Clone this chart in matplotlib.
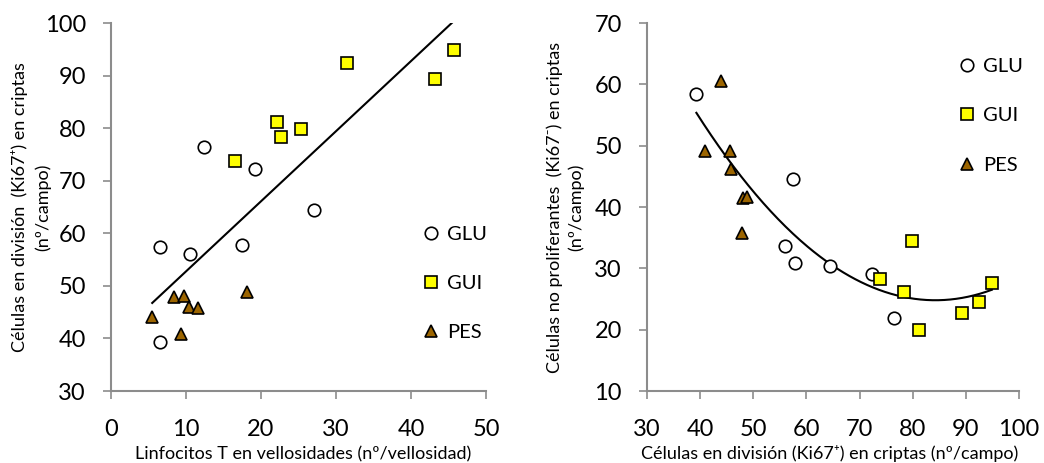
import matplotlib
matplotlib.use('Agg')
import matplotlib.pyplot as plt
import numpy as np

plt.rcParams['font.family'] = ['Lato', 'DejaVu Sans']

# Ki67+ cells in crypts (shared between both panels)
glu_ki67p = [57.4, 39.3, 56.0, 76.4, 72.3, 57.8, 64.5]
gui_ki67p = [73.8, 81.2, 78.4, 79.8, 92.4, 89.3, 94.9]
pes_ki67p = [44.0, 47.8, 48.0, 40.9, 45.9, 45.7, 48.8]

# T lymphocytes in villi
glu_linf = [6.5, 6.5, 10.6, 12.4, 19.2, 17.45, 27.1]
gui_linf = [16.6, 22.1, 22.65, 25.4, 31.5, 43.2, 45.8]
pes_linf = [5.5, 8.45, 9.8, 9.3, 10.45, 11.55, 18.1]

# Ki67- cells in crypts
glu_ki67n = [44.6, 58.5, 33.6, 21.9, 29.0, 30.8, 30.4]
gui_ki67n = [28.3, 20.0, 26.1, 34.5, 24.5, 22.7, 27.6]
pes_ki67n = [60.5, 35.8, 41.4, 49.1, 46.25, 49.1, 41.6]

brown = '#9C6500'
yellow = '#FFFF00'
spine_col = '#8C8C8C'

fig = plt.figure(figsize=(10.44, 4.63), dpi=100)
ax1 = fig.add_axes([0.1063, 0.1555, 0.3592, 0.7948])
ax2 = fig.add_axes([0.6197, 0.1555, 0.3563, 0.7948])

mk = dict(linestyle='none', markeredgecolor='black', markeredgewidth=1.2)


def style(ax):
    for s in ['top', 'right']:
        ax.spines[s].set_visible(False)
    for s in ['left', 'bottom']:
        ax.spines[s].set_color(spine_col)
        ax.spines[s].set_linewidth(1.5)
    ax.tick_params(direction='out', length=5.5, width=1.2, color=spine_col, labelsize=17)
    ax.tick_params(axis='x', pad=15)
    ax.tick_params(axis='y', pad=12.5)


def scatter_groups(ax, xs, ys):
    ax.plot(xs[0], ys[0], marker='o', markersize=9, markerfacecolor='white', label='GLU', **mk)
    ax.plot(xs[1], ys[1], marker='s', markersize=8.5, markerfacecolor=yellow, label='GUI', **mk)
    ax.plot(xs[2], ys[2], marker='^', markersize=9, markerfacecolor=brown, label='PES', **mk)


def place_labels(ax, xlab_x, ylab_x):
    ax.xaxis.label.set_va('center')
    ax.yaxis.label.set_va('center')
    ax.xaxis.set_label_coords(xlab_x, -0.171)
    ax.yaxis.set_label_coords(ylab_x, 0.5)


# Left panel: linear trend
scatter_groups(ax1, [glu_linf, gui_linf, pes_linf], [glu_ki67p, gui_ki67p, pes_ki67p])
xa = np.array(glu_linf + gui_linf + pes_linf)
ya = np.array(glu_ki67p + gui_ki67p + pes_ki67p)
c1 = np.polyfit(xa, ya, 1)
xl = np.linspace(xa.min(), xa.max(), 100)
ax1.plot(xl, np.polyval(c1, xl), color='black', linewidth=1.5, zorder=1)
ax1.set_xlim(0, 50)
ax1.set_ylim(30, 100)
ax1.set_xticks(range(0, 51, 10))
ax1.set_yticks(range(30, 101, 10))
style(ax1)
ax1.set_xlabel('Linfocitos T en vellosidades (nº/vellosidad)', fontsize=13)
ax1.set_ylabel('Células en división  (Ki67⁺) en criptas\n(nº/campo)', fontsize=13,
               linespacing=1.5)
place_labels(ax1, 0.512, -0.214)
ax1.legend(loc='center left', bbox_to_anchor=(0.80, 0.292), frameon=False, fontsize=14.5,
           handlelength=1.0, handletextpad=0.3, labelspacing=1.6, borderpad=0)

# Right panel: quadratic trend
scatter_groups(ax2, [glu_ki67p, gui_ki67p, pes_ki67p], [glu_ki67n, gui_ki67n, pes_ki67n])
xb = np.array(glu_ki67p + gui_ki67p + pes_ki67p)
yb = np.array(glu_ki67n + gui_ki67n + pes_ki67n)
c2 = np.polyfit(xb, yb, 2)
xq = np.linspace(xb.min(), xb.max(), 200)
ax2.plot(xq, np.polyval(c2, xq), color='black', linewidth=1.5, zorder=1)
ax2.set_xlim(30, 100)
ax2.set_ylim(10, 70)
ax2.set_xticks(range(30, 101, 10))
ax2.set_yticks(range(10, 71, 10))
style(ax2)
ax2.set_xlabel('Células en división (Ki67⁺) en criptas (nº/campo)', fontsize=13)
ax2.set_ylabel('Células no proliferantes  (Ki67⁻) en criptas\n(nº/campo)', fontsize=13,
               linespacing=1.35)
place_labels(ax2, 0.492, -0.219)
ax2.legend(loc='center left', bbox_to_anchor=(0.805, 0.748), frameon=False, fontsize=14.5,
           handlelength=1.0, handletextpad=0.3, labelspacing=1.6, borderpad=0)

fig.savefig('out.png', dpi=100, facecolor='white')
